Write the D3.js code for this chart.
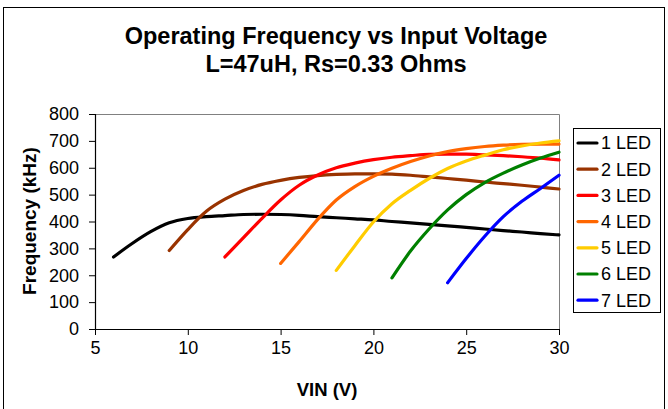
<!DOCTYPE html>
<html>
<head>
<meta charset="utf-8">
<script src="https://cdn.jsdelivr.net/npm/d3@7"></script>
<style>
  html, body { margin: 0; padding: 0; background: #fff; }
  svg { display: block; font-family: "Liberation Sans", Arial, sans-serif; }
</style>
</head>
<body>
<svg id="chart" width="668" height="409"></svg>
<script>
// ---- data ----
const seriesNames = ["1 LED", "2 LED", "3 LED", "4 LED", "5 LED", "6 LED", "7 LED"];
const seriesColors = ["#000000", "#993300", "#FF0000", "#FF6600", "#FFCC00", "#008000", "#0000FF"];

const vin1 = [6,7,8,9,10,11,12,13,14,15,16,17,18,19,20,21,22,23,24,25,26,27,28,29,30];
const freq1 = [268,318,362,395,411,418,422,426,427,426,423,418,414,410,406,400,395,389,384,378,372,366,361,355,350];

const vin2 = [9,10,11,12,13,14,15,16,17,18,19,20,21,22,23,24,25,26,27,28,29,30];
const freq2 = [292,370,438,483,515,538,553,564,571,575,577,577,576,572,566,560,554,547,541,535,528,521];

const vin3 = [12,13,14,15,16,17,18,19,20,21,22,23,24,25,26,27,28,29,30];
const freq3 = [268,340,412,480,535,573,600,617,630,639,645,650,651,651,648,645,641,636,629];

const vin4 = [15,16,17,18,19,20,21,22,23,24,25,26,27,28,29,30];
const freq4 = [244,325,408,480,530,568,598,623,644,660,671,679,684,687,688,688];

const vin5 = [18,19,20,21,22,23,24,25,26,27,28,29,30];
const freq5 = [218,310,398,466,516,560,597,625,647,667,681,692,700];

const vin6 = [21,22,23,24,25,26,27,28,29,30];
const freq6 = [190,290,372,443,500,545,580,610,636,658];

const vin7 = [24,25,26,27,28,29,30];
const freq7 = [172,262,345,418,475,523,572];

const xTicks = [5,10,15,20,25,30];
const yTicks = [0,100,200,300,400,500,600,700,800];

const titleLines = ["Operating Frequency vs Input Voltage", "L=47uH, Rs=0.33 Ohms"];
const xTitle = "VIN (V)";
const yTitle = "Frequency (kHz)";

const vins = [vin1, vin2, vin3, vin4, vin5, vin6, vin7];
const freqs = [freq1, freq2, freq3, freq4, freq5, freq6, freq7];
const series = seriesNames.map((name, i) => ({
  name, color: seriesColors[i],
  points: vins[i].map((v, j) => ({ v, f: freqs[i][j] }))
}));

// ---- layout ----
const svg = d3.select("#chart");
const plot = { left: 95, right: 559, top: 114, bottom: 329 };

const x = d3.scaleLinear().domain([5, 30]).range([plot.left, plot.right]);
const y = d3.scaleLinear().domain([0, 800]).range([plot.bottom, plot.top]);

// outer border
svg.append("rect")
  .attr("x", 3.5).attr("y", 7.5).attr("width", 661).attr("height", 420)
  .attr("fill", "#fff").attr("stroke", "#000").attr("stroke-width", 1);

// title
svg.append("g").selectAll("text").data(titleLines).join("text")
  .attr("x", 336).attr("y", (d, i) => 44 + i * 27.5)
  .attr("text-anchor", "middle")
  .attr("font-weight", "bold").attr("font-size", 23.5)
  .text(d => d);

// plot frame (gray top/right)
svg.append("path")
  .attr("d", `M${plot.left},${plot.top + 0.5}H${plot.right + 0.5}V${plot.bottom}`)
  .attr("fill", "none").attr("stroke", "#808080").attr("stroke-width", 1);

// axes
const xAxis = svg.append("g")
  .attr("transform", `translate(0,${plot.bottom})`)
  .call(d3.axisBottom(x).tickValues(xTicks).tickSize(6).tickPadding(6).tickFormat(d3.format("d")));
const yAxis = svg.append("g")
  .attr("transform", `translate(${plot.left},0)`)
  .call(d3.axisLeft(y).tickValues(yTicks).tickSize(6).tickPadding(10).tickFormat(d3.format("d")));

[xAxis, yAxis].forEach(g => {
  g.select(".domain").attr("stroke", "#000").attr("stroke-width", 1.2);
  g.selectAll(".tick line").attr("stroke", "#000");
  g.selectAll(".tick text").attr("fill", "#000").attr("font-size", 18)
    .attr("font-family", "Liberation Sans, Arial, sans-serif");
});
yAxis.select(".domain").attr("d", `M0.5,${plot.top}V${plot.bottom}`);
xAxis.select(".domain").attr("d", `M${plot.left},0.5H${plot.right}`);

// axis titles
svg.append("text")
  .attr("x", 327).attr("y", 396)
  .attr("text-anchor", "middle").attr("font-weight", "bold").attr("font-size", 18.5)
  .text(xTitle);
svg.append("text")
  .attr("transform", `translate(36,221) rotate(-90)`)
  .attr("text-anchor", "middle").attr("font-weight", "bold").attr("font-size", 19)
  .text(yTitle);

// lines
const line = d3.line()
  .x(d => x(d.v)).y(d => y(d.f))
  .curve(d3.curveMonotoneX);

svg.append("g").selectAll("path").data(series).join("path")
  .attr("d", d => line(d.points))
  .attr("fill", "none")
  .attr("stroke", d => d.color)
  .attr("stroke-width", 3.2)
  .attr("stroke-linecap", "round")
  .attr("stroke-linejoin", "round");

// legend
const legend = svg.append("g");
legend.append("rect")
  .attr("x", 573.5).attr("y", 128.5).attr("width", 87).attr("height", 184)
  .attr("fill", "#fff").attr("stroke", "#000").attr("stroke-width", 1);
const items = legend.selectAll("g.item").data(series).join("g")
  .attr("class", "item")
  .attr("transform", (d, i) => `translate(0,${143 + i * 26.2})`);
items.append("line")
  .attr("x1", 578).attr("x2", 597).attr("y1", 0).attr("y2", 0)
  .attr("stroke", d => d.color).attr("stroke-width", 3.2).attr("stroke-linecap", "round");
items.append("text")
  .attr("x", 601).attr("y", 0).attr("dy", "0.35em")
  .attr("font-size", 18)
  .text(d => d.name);
</script>
</body>
</html>
